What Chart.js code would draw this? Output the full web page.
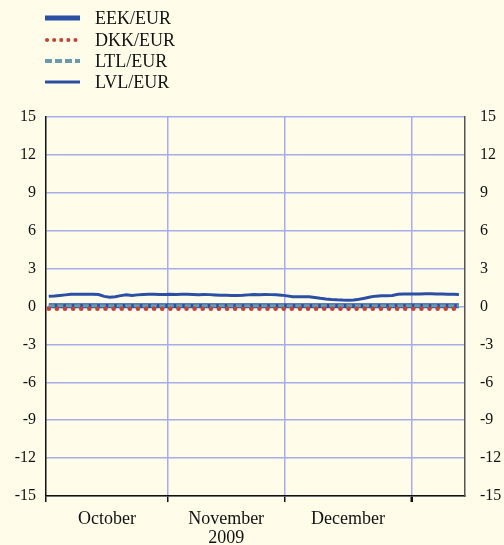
<!DOCTYPE html>
<html lang="en">
<head>
  <meta charset="UTF-8">
  <title>Baltic and Danish exchange rates vs EUR</title>
  <script src="https://cdn.jsdelivr.net/npm/chart.js"></script>
  <style>
    body {
      margin: 0;
      background-color: #fffde9;
    }
    canvas {
      display: block;
    }
  </style>
</head>
<body>
  <canvas id="fxChart" width="504" height="545"></canvas>

  <script>
    // business-day index, Oct 2009 - mid Jan 2010
    const monthStarts = [0, 22, 43, 66];
    const monthMids = [11, 32.5, 54.5];
    const monthLabels = ['October', ['November', '2009'], 'December'];
    const yTicks = [-15, -12, -9, -6, -3, 0, 3, 6, 9, 12, 15];
    const seriesNames = ['EEK/EUR', 'DKK/EUR', 'LTL/EUR', 'LVL/EUR'];

    const eek = [
      0.06, 0.06, 0.06, 0.06, 0.06, 0.06, 0.06, 0.06, 0.06, 0.06, 0.06, 0.06, 0.06, 0.06, 0.06,
      0.06, 0.06, 0.06, 0.06, 0.06, 0.06, 0.06, 0.06, 0.06, 0.06, 0.06, 0.06, 0.06, 0.06, 0.06,
      0.06, 0.06, 0.06, 0.06, 0.06, 0.06, 0.06, 0.06, 0.06, 0.06, 0.06, 0.06, 0.06, 0.06, 0.06,
      0.06, 0.06, 0.06, 0.06, 0.06, 0.06, 0.06, 0.06, 0.06, 0.06, 0.06, 0.06, 0.06, 0.06, 0.06,
      0.06, 0.06, 0.06, 0.06, 0.06, 0.06, 0.06, 0.06, 0.06, 0.06, 0.06, 0.06, 0.06, 0.06, 0.06
    ];
    const dkk = [
      -0.18, -0.18, -0.18, -0.18, -0.18, -0.18, -0.18, -0.18, -0.18, -0.18, -0.18, -0.18, -0.18, -0.18, -0.18,
      -0.18, -0.18, -0.18, -0.18, -0.18, -0.18, -0.18, -0.18, -0.18, -0.18, -0.18, -0.18, -0.18, -0.18, -0.18,
      -0.18, -0.18, -0.18, -0.18, -0.18, -0.18, -0.18, -0.18, -0.18, -0.18, -0.18, -0.18, -0.18, -0.18, -0.18,
      -0.18, -0.18, -0.18, -0.18, -0.18, -0.18, -0.18, -0.18, -0.18, -0.18, -0.18, -0.18, -0.18, -0.18, -0.18,
      -0.18, -0.18, -0.18, -0.18, -0.18, -0.18, -0.18, -0.18, -0.18, -0.18, -0.18, -0.18, -0.18, -0.18, -0.18
    ];
    const ltl = [
      0.06, 0.06, 0.06, 0.06, 0.06, 0.06, 0.06, 0.06, 0.06, 0.06, 0.06, 0.06, 0.06, 0.06, 0.06,
      0.06, 0.06, 0.06, 0.06, 0.06, 0.06, 0.06, 0.06, 0.06, 0.06, 0.06, 0.06, 0.06, 0.06, 0.06,
      0.06, 0.06, 0.06, 0.06, 0.06, 0.06, 0.06, 0.06, 0.06, 0.06, 0.06, 0.06, 0.06, 0.06, 0.06,
      0.06, 0.06, 0.06, 0.06, 0.06, 0.06, 0.06, 0.06, 0.06, 0.06, 0.06, 0.06, 0.06, 0.06, 0.06,
      0.06, 0.06, 0.06, 0.06, 0.06, 0.06, 0.06, 0.06, 0.06, 0.06, 0.06, 0.06, 0.06, 0.06, 0.06
    ];
    const lvl = [
      0.82, 0.84, 0.88, 0.92, 0.96, 0.97, 0.97, 0.96, 0.96, 0.95, 0.80, 0.74, 0.78, 0.86, 0.93,
      0.87, 0.92, 0.95, 0.96, 0.96, 0.95, 0.95, 0.96, 0.95, 0.96, 0.96, 0.95, 0.94, 0.95, 0.94,
      0.92, 0.90, 0.89, 0.88, 0.88, 0.89, 0.92, 0.95, 0.94, 0.95, 0.94, 0.93, 0.90, 0.84, 0.78,
      0.77, 0.77, 0.77, 0.72, 0.65, 0.60, 0.56, 0.53, 0.51, 0.50, 0.52, 0.58, 0.66, 0.75, 0.82,
      0.85, 0.86, 0.88, 0.97, 0.98, 0.98, 0.99, 0.99, 1.00, 1.00, 0.99, 0.98, 0.97, 0.96, 0.95
    ];

    const BLUE = '#2c4fa6';
    const RED = '#c2433a';
    const TEAL = '#6b9aaa';
    const GRID = '#a6acec';
    const SERIF = '"Liberation Serif", "DejaVu Serif", serif';

    function points(values) {
      return values.map((v, i) => ({ x: i + 0.5, y: v }));
    }

    const styles = [
      { color: BLUE, width: 5, dash: [], cap: 'butt', order: 4 },
      { color: RED, width: 4.5, dash: [0.1, 8], cap: 'round', order: 2 },
      { color: TEAL, width: 3, dash: [6, 2.5], cap: 'butt', order: 3 },
      { color: BLUE, width: 3, dash: [], cap: 'butt', order: 1 }
    ];
    const seriesData = [eek, dkk, ltl, lvl];

    // legend drawn top-left, one row per series
    const sideLegend = {
      id: 'sideLegend',
      afterDraw(chart) {
        const ctx = chart.ctx;
        const rows = [18, 40, 61, 82];
        ctx.save();
        seriesNames.forEach((name, i) => {
          const s = styles[i];
          ctx.strokeStyle = s.color;
          ctx.lineWidth = i === 0 ? 5 : (i === 3 ? 3 : 4);
          ctx.lineCap = s.cap;
          ctx.setLineDash(i === 1 ? [0.1, 7] : (i === 2 ? [7, 3] : []));
          ctx.beginPath();
          ctx.moveTo(i === 1 ? 47 : 45, rows[i]);
          ctx.lineTo(80, rows[i]);
          ctx.stroke();
          ctx.setLineDash([]);
          ctx.fillStyle = '#111';
          ctx.font = '18px ' + SERIF;
          ctx.textBaseline = 'middle';
          ctx.textAlign = 'left';
          ctx.fillText(name, 95, rows[i] + 1);
        });
        ctx.restore();
      }
    };

    new Chart(document.getElementById('fxChart'), {
      type: 'line',
      data: {
        datasets: seriesNames.map((name, i) => ({
          label: name,
          data: points(seriesData[i]),
          borderColor: styles[i].color,
          borderWidth: styles[i].width,
          borderDash: styles[i].dash,
          borderCapStyle: styles[i].cap,
          pointRadius: 0,
          tension: 0,
          order: styles[i].order,
          yAxisID: 'y'
        }))
      },
      options: {
        responsive: false,
        devicePixelRatio: 1,
        animation: false,
        layout: { padding: { top: 117, left: 0, right: 0, bottom: 0 } },
        plugins: {
          legend: { display: false },
          tooltip: { enabled: false }
        },
        scales: {
          x: {
            type: 'linear',
            min: 0,
            max: 75.6,
            afterBuildTicks(scale) {
              scale.ticks = monthStarts.concat(monthMids).map(v => ({ value: v }));
            },
            afterFit(scale) { scale.height = 49; },
            border: { color: '#111', width: 1.5 },
            grid: {
              color: ctx => (ctx.tick && monthStarts.includes(ctx.tick.value) && ctx.tick.value > 0) ? GRID : 'rgba(0,0,0,0)',
              lineWidth: 1.5,
              tickColor: ctx => (ctx.tick && monthStarts.includes(ctx.tick.value)) ? '#111' : 'rgba(0,0,0,0)',
              tickWidth: ctx => (ctx.tick && ctx.tick.value === 66) ? 2.5 : 1.5,
              tickLength: 6
            },
            ticks: {
              autoSkip: false,
              maxRotation: 0,
              padding: 7,
              color: '#111',
              font: { family: SERIF, size: 18, lineHeight: 1.1 },
              callback: value => {
                const k = monthMids.indexOf(value);
                return k >= 0 ? monthLabels[k] : '';
              }
            }
          },
          y: {
            position: 'left',
            min: -15,
            max: 15,
            afterBuildTicks(scale) { scale.ticks = yTicks.map(v => ({ value: v })); },
            afterFit(scale) { scale.width = 46; },
            border: { color: '#111', width: 1.5 },
            grid: { color: GRID, lineWidth: 1.5, drawTicks: false },
            ticks: {
              padding: 10,
              color: '#111',
              font: { family: SERIF, size: 16 }
            }
          },
          y2: {
            position: 'right',
            min: -15,
            max: 15,
            afterBuildTicks(scale) { scale.ticks = yTicks.map(v => ({ value: v })); },
            afterFit(scale) { scale.width = 39; },
            border: { color: '#555', width: 1.5 },
            grid: { drawOnChartArea: false, drawTicks: false },
            ticks: {
              padding: 15,
              color: '#111',
              font: { family: SERIF, size: 16 }
            }
          }
        }
      },
      plugins: [sideLegend]
    });
  </script>
</body>
</html>
